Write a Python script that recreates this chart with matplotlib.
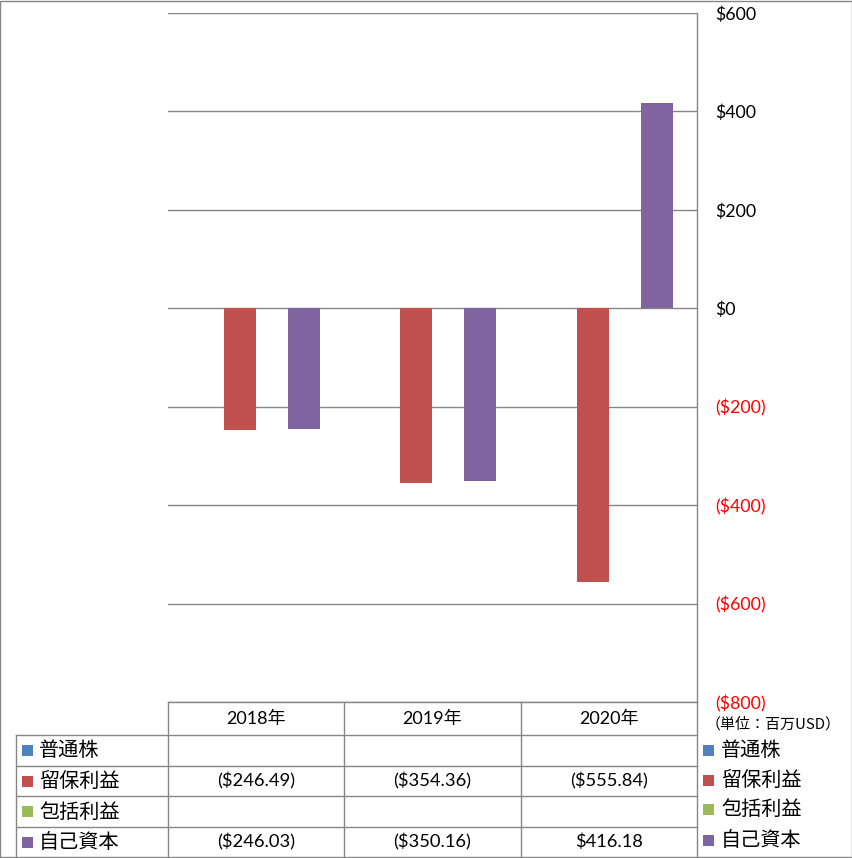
import matplotlib
matplotlib.use("Agg")
import matplotlib.pyplot as plt
import numpy as np
from matplotlib.lines import Line2D
from matplotlib.patches import Rectangle

# ---- data ----
categories = ["2018年", "2019年", "2020年"]
series_names = ["普通株", "留保利益", "包括利益", "自己資本"]
common_stock = [np.nan, np.nan, np.nan]
retained_earnings = [-246.49, -354.36, -555.84]
comprehensive_income = [np.nan, np.nan, np.nan]
equity = [-246.03, -350.16, 416.18]
series_values = [common_stock, retained_earnings, comprehensive_income, equity]
series_colors = ["#4F81BD", "#C0504D", "#9BBB59", "#8064A2"]
y_ticks = [600, 400, 200, 0, -200, -400, -600, -800]
unit_label = "（単位：百万USD）"

W, H = 853, 858
fig = plt.figure(figsize=(W / 100, H / 100), dpi=100)
fig.patch.set_facecolor("white")

GRAY = "#868686"
NUM_FONT = ["Lato", "Noto Sans CJK JP", "DejaVu Sans"]
JP_FONT = ["Noto Sans CJK JP", "DejaVu Sans"]

# plot area in pixels
L, R, T, B = 168, 697, 13, 702
ax = fig.add_axes([L / W, 1 - B / H, (R - L) / W, (B - T) / H])
ax.set_facecolor("white")

n = len(series_values)
bw = 32 / ((R - L) / 3)
x = np.arange(len(categories))
for i, (vals, col) in enumerate(zip(series_values, series_colors)):
    off = (i - (n - 1) / 2) * bw
    v = np.array(vals, dtype=float)
    mask = ~np.isnan(v)
    ax.bar(x[mask] + off, v[mask], width=bw, color=col, zorder=3, linewidth=0)

ax.set_xlim(-0.5, len(categories) - 0.5)
ax.set_ylim(min(y_ticks), max(y_ticks))
ax.set_yticks(y_ticks)
ax.yaxis.tick_right()
ax.set_xticks([])
def fmt_tick(v):
    return f"${int(v)}" if v >= 0 else f"(${int(-v)})"
ax.set_yticklabels([fmt_tick(v) for v in y_ticks], fontfamily=NUM_FONT, fontsize=12.8)
for lab, v in zip(ax.get_yticklabels(), y_ticks):
    lab.set_color("red" if v < 0 else "black")
ax.tick_params(axis="y", length=0, pad=13)
ax.grid(axis="y", color=GRAY, linewidth=1.0, zorder=0)
for s in ["left", "top", "bottom"]:
    ax.spines[s].set_visible(False)
ax.spines["right"].set_color(GRAY)
ax.spines["right"].set_linewidth(1.0)

# ---- overlay for data table and legend (pixel coordinates) ----
ov = fig.add_axes([0, 0, 1, 1], zorder=5)
ov.set_xlim(0, W)
ov.set_ylim(H, 0)
ov.axis("off")
ov.patch.set_alpha(0)

def line(x0, y0, x1, y1):
    ov.add_line(Line2D([x0, x1], [y0, y1], color=GRAY, linewidth=1.0))

# outer border
ov.add_patch(Rectangle((0.5, 0.5), W - 1.5, H - 1.5, fill=False, edgecolor=GRAY, linewidth=1.0))

row_edges = [702, 735, 766, 796, 827, 857]
left_col = 16
col_w = (R - L) / len(categories)
col_edges = [L + k * col_w for k in range(len(categories) + 1)]

# horizontal lines
line(L, row_edges[0], R, row_edges[0])
for y in row_edges[1:-1]:
    line(left_col, y, R, y)
# vertical lines
line(left_col, row_edges[1], left_col, H)
for xe in col_edges[:-1]:
    line(xe, row_edges[0], xe, H)
line(R, row_edges[0], R, H)

# header
for k, c in enumerate(categories):
    xc = (col_edges[k] + col_edges[k + 1]) / 2
    ov.text(xc, (row_edges[0] + row_edges[1]) / 2, c, ha="center", va="center",
            fontsize=13, family=NUM_FONT)

def fmt_val(v):
    if np.isnan(v):
        return ""
    return f"${v:,.2f}" if v >= 0 else f"(${-v:,.2f})"

for r, (name, vals, col) in enumerate(zip(series_names, series_values, series_colors)):
    yc = (row_edges[r + 1] + row_edges[r + 2]) / 2
    ov.add_patch(Rectangle((22, yc - 5.5), 11, 11, color=col, linewidth=0))
    ov.text(39, yc + 0.5, name, ha="left", va="center", fontsize=14.5, family=JP_FONT)
    for k, v in enumerate(vals):
        xc = (col_edges[k] + col_edges[k + 1]) / 2
        ov.text(xc, yc, fmt_val(v), ha="center", va="center", fontsize=13.2, family=NUM_FONT)
    # right legend
    yl = [750, 780, 809, 840][r]
    ov.add_patch(Rectangle((703, yl - 5.5), 11, 11, color=col, linewidth=0))
    ov.text(721, yl + 0.5, name, ha="left", va="center", fontsize=14.5, family=JP_FONT)

ov.text(773, 724, unit_label, ha="center", va="center", fontsize=10.8, family=JP_FONT)

fig.savefig("out.png", dpi=100, facecolor="white")
